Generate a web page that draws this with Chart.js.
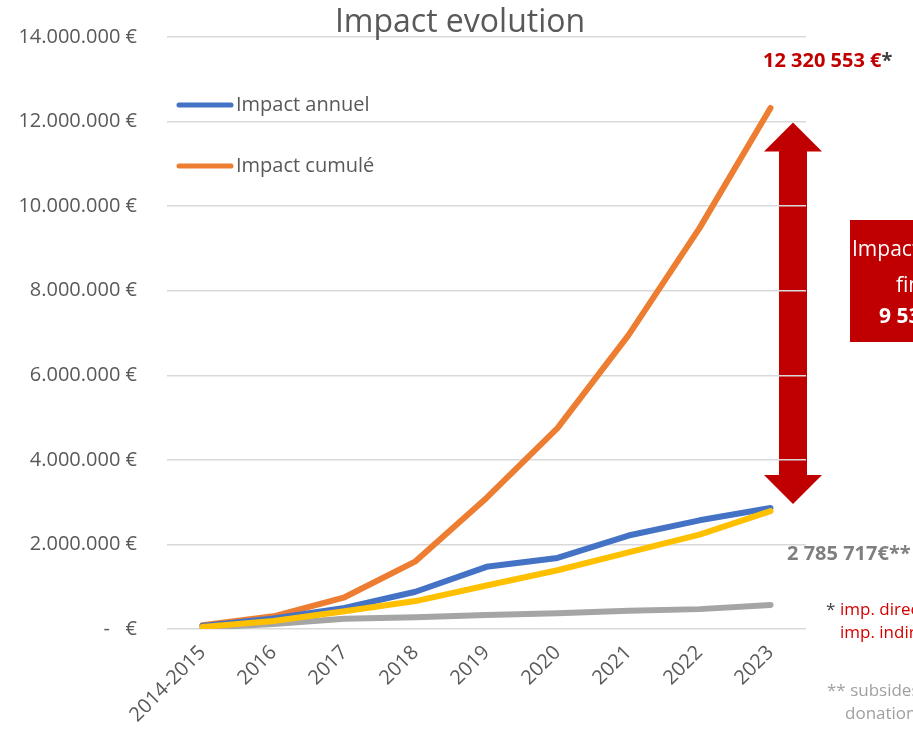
<!DOCTYPE html>
<html>
<head>
<meta charset="utf-8">
<script src="https://cdn.jsdelivr.net/npm/chart.js@4/dist/chart.umd.min.js"></script>
<style>
  body { margin: 0; background: #fff; }
  #wrap { width: 913px; height: 732px; position: relative; }
</style>
</head>
<body>
<div id="wrap"><canvas id="myChart"></canvas></div>
<script>
// Impact evolution
const years = ['2014-2015', '2016', '2017', '2018', '2019', '2020', '2021', '2022', '2023'];
const impactAnnuel = [70000, 250000, 500000, 880000, 1470000, 1680000, 2210000, 2570000, 2860000];
const impactCumule = [90000, 300000, 750000, 1600000, 3100000, 4750000, 6950000, 9480000, 12320553];
const subsides = [50000, 190000, 420000, 660000, 1030000, 1390000, 1810000, 2230000, 2785717];
const autres = [30000, 120000, 240000, 280000, 330000, 370000, 430000, 470000, 570000];
const yTicks = [0, 2000000, 4000000, 6000000, 8000000, 10000000, 12000000, 14000000];

const chartTitle = 'Impact evolution';
const totalLabel = '12 320 553 €';
const subsLabel = '2 785 717€';
const leverLabel = '9 534 836 €';

const FONT = '"Open Sans", "Liberation Sans", sans-serif';
const GREY_TXT = '#595959';
const RED = '#c00000';

function euro(v) {
    if (v === 0) return '-   €';
    return String(v).replace(/\B(?=(\d{3})+(?!\d))/g, '.') + ' €';
}

// red double arrow, drawn before the grid so grid lines show over it
const arrowPlugin = {
    id: 'arrow',
    beforeDraw(chart) {
        const ctx = chart.ctx;
        const y = chart.scales.y;
        const a = chart.chartArea;
        const cx = a.right - 13;
        const top = y.getPixelForValue(12000000) + 1;
        const bot = y.getPixelForValue(impactAnnuel[8]) - 4;
        const head = 29, hw = 29, sw = 14;
        ctx.save();
        ctx.fillStyle = RED;
        ctx.beginPath();
        ctx.moveTo(cx, top);
        ctx.lineTo(cx + hw, top + head);
        ctx.lineTo(cx + sw, top + head);
        ctx.lineTo(cx + sw, bot - head);
        ctx.lineTo(cx + hw, bot - head);
        ctx.lineTo(cx, bot);
        ctx.lineTo(cx - hw, bot - head);
        ctx.lineTo(cx - sw, bot - head);
        ctx.lineTo(cx - sw, top + head);
        ctx.lineTo(cx - hw, top + head);
        ctx.closePath();
        ctx.fill();
        ctx.restore();
    }
};

// title, legend inside the plot + text notes on the right
const notesPlugin = {
    id: 'notes',
    afterDraw(chart) {
        const ctx = chart.ctx;
        const a = chart.chartArea;
        ctx.save();

        // title
        ctx.fillStyle = GREY_TXT;
        ctx.font = '32px ' + FONT;
        ctx.textAlign = 'center';
        ctx.textBaseline = 'middle';
        ctx.fillText(chartTitle, 460, 23);

        // legend
        const shown = chart.data.datasets.filter(d => d.inLegend);
        shown.forEach((d, i) => {
            const ly = a.top + 68 + i * 61;
            ctx.strokeStyle = d.borderColor;
            ctx.lineWidth = 5;
            ctx.lineCap = 'round';
            ctx.beginPath();
            ctx.moveTo(a.left + 12, ly);
            ctx.lineTo(a.left + 64, ly);
            ctx.stroke();
            ctx.fillStyle = GREY_TXT;
            ctx.font = '20px ' + FONT;
            ctx.textAlign = 'left';
            ctx.textBaseline = 'middle';
            ctx.fillText(d.label, a.left + 69, ly);
        });

        ctx.textBaseline = 'alphabetic';
        ctx.textAlign = 'left';

        // total label
        ctx.font = 'bold 20px ' + FONT;
        ctx.fillStyle = RED;
        ctx.fillText(totalLabel, 763, 67);
        let w = ctx.measureText(totalLabel).width;
        ctx.fillStyle = '#404040';
        ctx.fillText('*', 763 + w, 67);

        // subsidies label
        ctx.fillStyle = '#7f7f7f';
        ctx.fillText(subsLabel + '**', 787, 560);

        // red box
        ctx.fillStyle = RED;
        ctx.fillRect(850, 220, 140, 122);
        ctx.fillStyle = '#fff';
        ctx.font = '21px ' + FONT;
        ctx.fillText('Impact levier', 852, 256);
        ctx.fillText('financier', 896, 292);
        ctx.font = 'bold 21px ' + FONT;
        ctx.fillText(leverLabel, 879, 323);

        // footnotes
        ctx.font = '17px ' + FONT;
        ctx.fillStyle = '#404040';
        ctx.fillText('*', 826, 615);
        ctx.fillStyle = '#d40000';
        ctx.fillText('imp. direct +', 840, 615);
        ctx.fillText('imp. indirect', 840, 638);
        ctx.fillStyle = '#a0a0a0';
        ctx.fillText('** subsides +', 827, 696);
        ctx.fillText('donations', 845, 719);

        ctx.restore();
    }
};

function createChart() {
    const ctx = document.getElementById('myChart');
    new Chart(ctx, {
        type: 'line',
        data: {
            labels: years,
            datasets: [
                { label: 'Impact annuel', data: impactAnnuel, borderColor: '#4472c4', order: 1, inLegend: true },
                { label: 'Impact cumulé', data: impactCumule, borderColor: '#ed7d31', order: 2, inLegend: true },
                { label: 'Subsides + donations', data: subsides, borderColor: '#ffc000', order: 0 },
                { label: 'Autres', data: autres, borderColor: '#a5a5a5', order: 3 }
            ].map(d => Object.assign({
                borderWidth: 6,
                pointRadius: 0,
                pointHoverRadius: 0,
                tension: 0,
                borderCapStyle: 'round',
                borderJoinStyle: 'round',
                fill: false
            }, d))
        },
        options: {
            responsive: true,
            maintainAspectRatio: false,
            animation: false,
            layout: { padding: { left: 0, right: 107, top: 37, bottom: 0 } },
            scales: {
                x: {
                    offset: true,
                    grid: { display: false, drawTicks: false },
                    border: { display: false },
                    ticks: {
                        color: GREY_TXT,
                        font: { family: FONT, size: 20 },
                        minRotation: 45,
                        maxRotation: 45,
                        padding: 12,
                        autoSkip: false
                    },
                    afterFit(scale) { scale.height = 103; }
                },
                y: {
                    min: 0,
                    max: 14000000,
                    afterBuildTicks(scale) { scale.ticks = yTicks.map(v => ({ value: v })); },
                    grid: { color: '#d9d9d9', lineWidth: 1.5, drawTicks: false },
                    border: { display: false },
                    ticks: {
                        color: GREY_TXT,
                        font: { family: FONT, size: 20 },
                        padding: 30,
                        callback: v => euro(v)
                    },
                    afterFit(scale) {
                        scale.width = 167;
                        scale.paddingTop = 12;
                        scale.paddingBottom = 12;
                    }
                }
            },
            plugins: {
                title: { display: false },
                legend: { display: false },
                tooltip: { enabled: false }
            }
        },
        plugins: [arrowPlugin, notesPlugin]
    });
}

createChart();
</script>
</body>
</html>
